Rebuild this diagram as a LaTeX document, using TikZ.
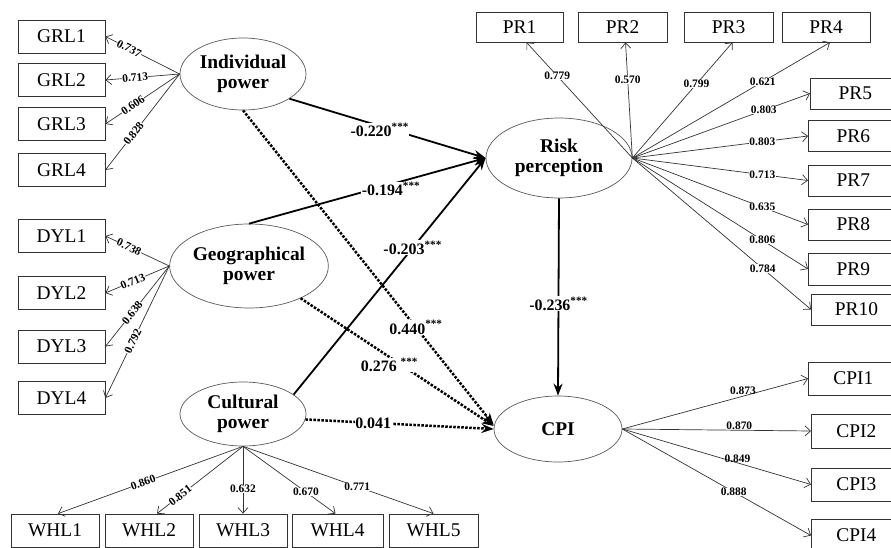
\documentclass[tikz,border=0pt]{standalone}
\usepackage{fontspec}
\setmainfont{Liberation Serif}
\usetikzlibrary{shapes.geometric,arrows.meta}
\begin{document}
\begin{tikzpicture}[x=1bp,y=-1bp,
 obs/.style={draw=black!80, line width=0.8bp, minimum height=33bp, inner sep=0pt, font=\fontsize{19.5}{21}\selectfont},
 obsr/.style={obs, minimum width=90bp, anchor=west},
 lat/.style={ellipse, draw=black!65, line width=0.7bp, inner sep=0pt, align=center, font=\fontsize{19.5}{20}\selectfont\bfseries},
 load/.style={draw=black!80, line width=0.7bp, -{Straight Barb[length=5.5bp,width=10bp]}},
 ll/.style={font=\fontsize{11.5}{12}\selectfont\bfseries, fill=white, inner sep=0.3bp},
 spath/.style={draw=black, line width=1.8bp, -{Stealth[length=12bp,width=9bp]}},
 dpath/.style={draw=black, line width=2.5bp, dash pattern=on 2.5bp off 1.5bp, -{Stealth[length=12bp,width=9bp]}},
 pl/.style={font=\fontsize{16}{18}\selectfont\bfseries, fill=white, inner sep=0.5bp},
]
\useasboundingbox (0,0) rectangle (891,548);
% latent variables
\node[lat, minimum width=126bp, minimum height=72bp] (ip) at (243,74) {Individual\\power};
\node[lat, minimum width=138bp, minimum height=84bp] (gp) at (249,266) {Geographical\\power};
\node[lat, minimum width=126bp, minimum height=64bp] (cp) at (243,414) {Cultural\\power};
\node[lat, minimum width=146bp, minimum height=80bp] (rp) at (559,158) {Risk\\perception};
\node[lat, minimum width=128bp, minimum height=66bp] (cpi) at (558,429) {CPI};
% left indicators
\node[obs, minimum width=87bp] (grl1) at (61.5,36.5) {GRL1};
\node[obs, minimum width=87bp] (grl2) at (61.5,80) {GRL2};
\node[obs, minimum width=87bp] (grl3) at (61.5,124) {GRL3};
\node[obs, minimum width=87bp] (grl4) at (61.5,170) {GRL4};
\node[obs, minimum width=87bp] (dyl1) at (61.5,236) {DYL1};
\node[obs, minimum width=87bp] (dyl2) at (61.5,293) {DYL2};
\node[obs, minimum width=87bp] (dyl3) at (61.5,346.5) {DYL3};
\node[obs, minimum width=87bp] (dyl4) at (61.5,398) {DYL4};
% bottom indicators
\node[obs, minimum width=88bp] (whl1) at (55,530.5) {WHL1};
\node[obs, minimum width=88bp] (whl2) at (149,530.5) {WHL2};
\node[obs, minimum width=88bp] (whl3) at (243,530.5) {WHL3};
\node[obs, minimum width=91bp] (whl4) at (337.5,530.5) {WHL4};
\node[obs, minimum width=89bp] (whl5) at (433.5,530.5) {WHL5};
% top indicators
\node[obs, minimum width=87bp, minimum height=30bp] (pr1) at (519.5,27) {PR1};
\node[obs, minimum width=89bp, minimum height=30bp] (pr2) at (622.5,27) {PR2};
\node[obs, minimum width=89bp, minimum height=30bp] (pr3) at (728.5,27) {PR3};
\node[obs, minimum width=88bp, minimum height=30bp] (pr4) at (826,27) {PR4};
% right indicators
\node[obsr, minimum height=31bp] (pr5) at (810,93.5) {PR5};
\node[obsr, minimum height=31bp] (pr6) at (808,136) {PR6};
\node[obsr, minimum height=31bp] (pr7) at (808,180.5) {PR7};
\node[obsr, minimum height=31bp] (pr8) at (808,224.5) {PR8};
\node[obsr, minimum height=32bp] (pr9) at (808,269) {PR9};
\node[obsr, minimum height=31bp] (pr10) at (811,309.5) {PR10};
\node[obsr, minimum height=33bp] (cpi1) at (808,378.5) {CPI1};
\node[obsr, minimum height=34bp] (cpi2) at (811,431) {CPI2};
\node[obsr, minimum height=33bp] (cpi3) at (811,484.5) {CPI3};
\node[obsr, minimum height=33bp] (cpi4) at (811,535.5) {CPI4};
% loadings: individual
\draw[load] (ip.west) -- (grl1.east) node[ll, pos=0.68, sloped] {0.737};
\draw[load] (ip.west) -- (grl2.east) node[ll, pos=0.6, sloped] {0.713};
\draw[load] (ip.west) -- (grl3.east) node[ll, pos=0.63, sloped] {0.606};
\draw[load] (ip.west) -- (grl4.east) node[ll, pos=0.62, sloped] {0.828};
% geographical
\draw[load] (gp.west) -- (dyl1.east) node[ll, pos=0.63, sloped] {0.738};
\draw[load] (gp.west) -- (dyl2.east) node[ll, pos=0.57, sloped] {0.713};
\draw[load] (gp.west) -- (dyl3.east) node[ll, pos=0.58, sloped] {0.638};
\draw[load] (gp.west) -- (dyl4.east) node[ll, pos=0.57, sloped] {0.792};
% cultural
\draw[load] (cp.south) -- ([xshift=3bp]whl1.north) node[ll, pos=0.54, sloped] {0.860};
\draw[load] (cp.south) -- ([xshift=8bp]whl2.north) node[ll, pos=0.73, sloped] {0.851};
\draw[load] (cp.south) -- (whl3.north) node[ll, pos=0.63] {0.632};
\draw[load] (cp.south) -- ([xshift=-2bp]whl4.north) node[ll, pos=0.68] {0.670};
\draw[load] (cp.south) -- (whl5.north) node[ll, pos=0.6] {0.771};
% risk perception
\draw[load] (rp.east) -- ([xshift=7bp]pr1.south) node[ll, pos=0.71] {0.779};
\draw[load] (rp.east) -- ([xshift=3bp]pr2.south) node[ll, pos=0.68] {0.570};
\draw[load] (rp.east) -- ([xshift=4bp]pr3.south) node[ll, pos=0.64] {0.799};
\draw[load] (rp.east) -- ([xshift=4bp]pr4.south) node[ll, pos=0.66] {0.621};
\draw[load] (rp.east) -- (pr5.west) node[ll, pos=0.74] {0.803};
\draw[load] (rp.east) -- (pr6.west) node[ll, pos=0.74] {0.803};
\draw[load] (rp.east) -- (pr7.west) node[ll, pos=0.74] {0.713};
\draw[load] (rp.east) -- (pr8.west) node[ll, pos=0.74] {0.635};
\draw[load] (rp.east) -- (pr9.west) node[ll, pos=0.74] {0.806};
\draw[load] (rp.east) -- (pr10.west) node[ll, pos=0.73] {0.784};
% CPI
\draw[load] (cpi.east) -- (cpi1.west) node[ll, pos=0.65, above=1bp, fill=none] {0.873};
\draw[load] (cpi.east) -- (cpi2.west) node[ll, pos=0.62, above=0bp, fill=none] {0.870};
\draw[load] (cpi.east) -- (cpi3.west) node[ll, pos=0.61, above=0bp, fill=none] {0.849};
\draw[load] (cpi.east) -- (cpi4.west) node[ll, pos=0.59] {0.888};
% structural paths
\draw[spath] (ip.-28) -- (rp.west) node[pl, pos=0.46, yshift=-4bp] {-0.220\textsuperscript{***}};
\draw[spath] (gp.north) -- (rp.west) node[pl, pos=0.6, yshift=-5bp] {-0.194\textsuperscript{***}};
\draw[spath] (cp.21) -- (rp.west) node[pl, pos=0.62] {-0.203\textsuperscript{***}};
\draw[spath] (rp.south) -- (cpi.north) node[pl, pos=0.535] {-0.236\textsuperscript{***}};
\draw[dpath] (ip.south) -- ([yshift=4bp]cpi.west) node[pl, pos=0.69] {0.440\textsuperscript{***}};
\draw[dpath] (gp.-32) -- ([yshift=3bp]cpi.west) node[pl, pos=0.46, yshift=-8bp] {0.276 \textsuperscript{***}};
\draw[dpath] (cp.-5) -- (cpi.west) node[pl, pos=0.36] {0.041};
\end{tikzpicture}
\end{document}
